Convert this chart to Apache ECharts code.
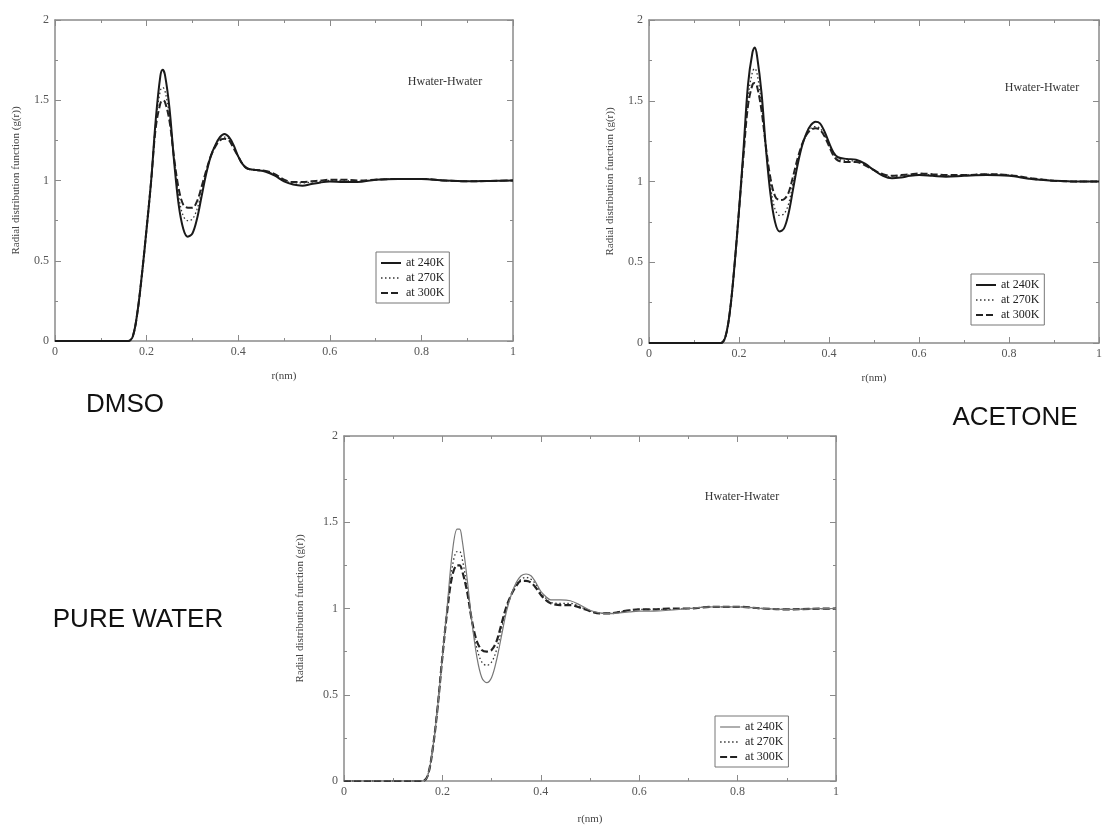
<!DOCTYPE html>
<html>
<head>
<meta charset="utf-8">
<script src="https://cdn.jsdelivr.net/npm/echarts@6/dist/echarts.min.js"></script>
<style>
  html, body { margin: 0; padding: 0; background: #fff; }
  #main { width: 1105px; height: 826px; }
</style>
</head>
<body>
<div id="main"></div>
<script>
// r (nm) sample points shared by every curve
var r = [0, 0.15, 0.16, 0.17, 0.18, 0.19, 0.20, 0.21, 0.22, 0.23, 0.235, 0.24, 0.25, 0.26, 0.27, 0.28,
  0.29, 0.30, 0.31, 0.32, 0.33, 0.34, 0.35, 0.36, 0.37, 0.38, 0.39, 0.40, 0.41, 0.42, 0.44, 0.46,
  0.48, 0.50, 0.52, 0.54, 0.56, 0.58, 0.60, 0.63, 0.66, 0.70, 0.75, 0.80, 0.85, 0.90, 0.95, 1.0];

var tempNames = ["at 240K", "at 270K", "at 300K"];

// DMSO
var dmso240 = [0, 0, 0, 0.03, 0.18, 0.42, 0.70, 1.00, 1.38, 1.65, 1.69, 1.66, 1.45, 1.12, 0.85, 0.70,
  0.65, 0.67, 0.76, 0.90, 1.04, 1.15, 1.22, 1.27, 1.29, 1.27, 1.22, 1.15, 1.10, 1.075, 1.065, 1.055,
  1.03, 0.995, 0.975, 0.968, 0.978, 0.988, 0.993, 0.99, 0.99, 1.005, 1.01, 1.01, 1.0, 0.995, 0.997, 1.0];
var dmso270 = [0, 0, 0, 0.03, 0.18, 0.42, 0.70, 1.00, 1.36, 1.56, 1.58, 1.56, 1.40, 1.13, 0.90, 0.78,
  0.75, 0.76, 0.82, 0.93, 1.05, 1.15, 1.22, 1.26, 1.27, 1.26, 1.21, 1.15, 1.10, 1.075, 1.065, 1.06,
  1.035, 1.0, 0.985, 0.985, 0.99, 0.995, 1.0, 1.0, 0.995, 1.005, 1.01, 1.01, 1.0, 0.995, 0.997, 1.0];
var dmso300 = [0, 0, 0, 0.03, 0.18, 0.42, 0.70, 1.00, 1.33, 1.48, 1.50, 1.49, 1.37, 1.14, 0.95, 0.85,
  0.83, 0.83, 0.87, 0.96, 1.06, 1.15, 1.21, 1.25, 1.26, 1.25, 1.20, 1.15, 1.10, 1.075, 1.065, 1.06,
  1.04, 1.005, 0.99, 0.99, 0.995, 1.0, 1.005, 1.005, 1.0, 1.005, 1.01, 1.01, 1.0, 0.995, 0.997, 1.0];

// ACETONE
var acet240 = [0, 0, 0, 0.04, 0.20, 0.48, 0.82, 1.20, 1.60, 1.80, 1.83, 1.78, 1.55, 1.20, 0.92, 0.75,
  0.69, 0.71, 0.80, 0.95, 1.10, 1.22, 1.30, 1.35, 1.37, 1.36, 1.31, 1.24, 1.18, 1.15, 1.14, 1.135,
  1.11, 1.07, 1.035, 1.02, 1.025, 1.035, 1.04, 1.035, 1.03, 1.035, 1.04, 1.035, 1.015, 1.005, 1.0, 1.0];
var acet270 = [0, 0, 0, 0.04, 0.20, 0.48, 0.82, 1.18, 1.52, 1.68, 1.70, 1.67, 1.48, 1.20, 0.97, 0.83,
  0.79, 0.80, 0.86, 0.99, 1.12, 1.22, 1.29, 1.33, 1.34, 1.33, 1.29, 1.23, 1.17, 1.14, 1.13, 1.125,
  1.105, 1.07, 1.04, 1.03, 1.035, 1.04, 1.045, 1.04, 1.035, 1.04, 1.045, 1.04, 1.015, 1.005, 1.0, 1.0];
var acet300 = [0, 0, 0, 0.04, 0.20, 0.48, 0.82, 1.16, 1.47, 1.60, 1.61, 1.59, 1.44, 1.21, 1.02, 0.91,
  0.885, 0.89, 0.93, 1.03, 1.14, 1.23, 1.29, 1.32, 1.33, 1.32, 1.28, 1.22, 1.16, 1.13, 1.12, 1.12,
  1.10, 1.07, 1.045, 1.035, 1.04, 1.045, 1.05, 1.045, 1.04, 1.04, 1.045, 1.04, 1.02, 1.005, 1.0, 1.0];

// PURE WATER
var water240 = [0, 0, 0, 0.03, 0.18, 0.42, 0.72, 1.02, 1.32, 1.46, 1.46, 1.40, 1.18, 0.92, 0.72, 0.60,
  0.57, 0.60, 0.70, 0.84, 0.98, 1.08, 1.15, 1.19, 1.20, 1.19, 1.15, 1.10, 1.07, 1.05, 1.05, 1.045,
  1.02, 0.99, 0.975, 0.97, 0.975, 0.98, 0.985, 0.985, 0.99, 1.0, 1.01, 1.01, 1.0, 0.995, 0.998, 1.0];
var water270 = [0, 0, 0, 0.03, 0.18, 0.42, 0.72, 1.00, 1.24, 1.33, 1.33, 1.29, 1.13, 0.92, 0.77, 0.69,
  0.67, 0.69, 0.76, 0.88, 1.0, 1.08, 1.14, 1.17, 1.18, 1.17, 1.14, 1.09, 1.06, 1.035, 1.03, 1.03,
  1.01, 0.985, 0.972, 0.972, 0.98, 0.99, 0.995, 0.995, 0.995, 1.0, 1.01, 1.01, 1.0, 0.995, 0.998, 1.0];
var water300 = [0, 0, 0, 0.03, 0.18, 0.42, 0.72, 0.99, 1.19, 1.25, 1.25, 1.22, 1.10, 0.93, 0.81, 0.76,
  0.75, 0.76, 0.81, 0.91, 1.01, 1.08, 1.13, 1.16, 1.16, 1.15, 1.12, 1.08, 1.05, 1.03, 1.02, 1.02,
  1.005, 0.985, 0.972, 0.972, 0.98, 0.99, 0.995, 0.995, 1.0, 1.0, 1.01, 1.01, 1.0, 0.995, 0.998, 1.0];

var panels = [
  { label: "DMSO", data: [dmso240, dmso270, dmso300] },
  { label: "ACETONE", data: [acet240, acet270, acet300] },
  { label: "PURE WATER", data: [water240, water270, water300] }
];

var serif = "'Liberation Serif', 'DejaVu Serif', serif";
var axisGrey = "#8a8a8a";

function pairs(ys) {
  return r.map(function (x, i) { return [x, ys[i]]; });
}

// grids in pixels
var grids = [
  { left: 55, top: 20, width: 458, height: 321 },
  { left: 649, top: 20, width: 460, height: 323 },
  { left: 344, top: 436, width: 492, height: 345 }
];

var lineStyles = [
  [{ color: "#1a1a1a", width: 2, type: "solid" },
   { color: "#333", width: 1.3, type: [1.5, 2.5] },
   { color: "#222", width: 2, type: [7, 3] }],
  [{ color: "#1a1a1a", width: 2, type: "solid" },
   { color: "#333", width: 1.3, type: [1.5, 2.5] },
   { color: "#222", width: 2, type: [7, 3] }],
  [{ color: "#777", width: 1.2, type: "solid" },
   { color: "#333", width: 1.3, type: [1.5, 2.5] },
   { color: "#222", width: 2.2, type: [7, 3] }]
];

var xAxes = [], yAxes = [], series = [], legends = [];

grids.forEach(function (g, gi) {
  var tick = { show: true, inside: true, length: 6, lineStyle: { color: axisGrey } };
  var minor = { show: true, splitNumber: 2, length: 3, lineStyle: { color: axisGrey } };
  var line = { show: true, onZero: false, lineStyle: { color: axisGrey, width: 1.5 } };
  xAxes.push({
    gridIndex: gi, type: "value", min: 0, max: 1, interval: 0.2,
    name: "r(nm)", nameLocation: "middle", nameGap: gi === 2 ? 33 : 30,
    nameTextStyle: { fontFamily: serif, fontSize: 11, color: "#444" },
    axisLine: line, axisTick: tick, minorTick: minor,
    axisLabel: { fontFamily: serif, fontSize: 12, color: "#555", margin: 5 },
    splitLine: { show: false }
  });
  xAxes.push({
    gridIndex: gi, type: "value", min: 0, max: 1, interval: 0.2, position: "top",
    axisLine: line, axisTick: tick, minorTick: minor,
    axisLabel: { show: false }, splitLine: { show: false }
  });
  yAxes.push({
    gridIndex: gi, type: "value", min: 0, max: 2, interval: 0.5,
    name: "Radial distribution function (g(r))", nameLocation: "middle",
    nameGap: gi === 2 ? 38 : 33,
    nameTextStyle: { fontFamily: serif, fontSize: 11, color: "#444" },
    axisLine: line, axisTick: tick, minorTick: minor,
    axisLabel: { fontFamily: serif, fontSize: 12, color: "#555", margin: 6 },
    splitLine: { show: false }
  });
  yAxes.push({
    gridIndex: gi, type: "value", min: 0, max: 2, interval: 0.5, position: "right",
    axisLine: line, axisTick: tick, minorTick: minor,
    axisLabel: { show: false }, splitLine: { show: false }
  });

  panels[gi].data.forEach(function (ys, si) {
    var ls = lineStyles[gi][si];
    series.push({
      name: tempNames[si], type: "line",
      xAxisIndex: gi * 2, yAxisIndex: gi * 2,
      data: pairs(ys), smooth: 0.35, showSymbol: false, symbol: "none",
      itemStyle: { color: ls.color },
      lineStyle: ls, z: 3 - si
    });
  });
});

// legend boxes and "Hwater-Hwater" labels
var legendPos = [
  { left: 376, top: 252 },
  { left: 971, top: 274 },
  { left: 715, top: 716 }
];
var textPos = [
  { x: 445, y: 82 },
  { x: 1042, y: 88 },
  { x: 742, y: 497 }
];

legendPos.forEach(function (p, gi) {
  legends.push({
    left: p.left, top: p.top, orient: "vertical",
    itemWidth: 20, itemHeight: 8, itemGap: 3,
    padding: [5, 5, 4, 4],
    borderColor: "#777", borderWidth: 1,
    selectedMode: false,
    itemStyle: { color: "rgba(0,0,0,0)", borderColor: "rgba(0,0,0,0)", borderWidth: 0 },
    textStyle: { fontFamily: serif, fontSize: 12, color: "#222" },
    data: tempNames.map(function (n, si) {
      return {
        name: n, lineStyle: lineStyles[gi][si],
        itemStyle: { color: "rgba(0,0,0,0)", borderColor: "rgba(0,0,0,0)", borderWidth: 0 }
      };
    })
  });
});

var graphics = textPos.map(function (p) {
  return {
    type: "text", x: p.x, y: p.y,
    style: {
      text: "Hwater-Hwater", fontFamily: serif, fontSize: 12, fill: "#333",
      textAlign: "center", textVerticalAlign: "middle"
    }
  };
});

var panelLabelPos = [
  { x: 125, y: 405 },
  { x: 1015, y: 418 },
  { x: 138, y: 620 }
];
panelLabelPos.forEach(function (p, gi) {
  graphics.push({
    type: "text", x: p.x, y: p.y,
    style: {
      text: panels[gi].label, fontFamily: "'Liberation Sans', Arial, sans-serif",
      fontSize: 26, fill: "#111", textAlign: "center", textVerticalAlign: "middle"
    }
  });
});

var myChart = echarts.init(document.getElementById("main"));
myChart.setOption({
  animation: false,
  backgroundColor: "#fff",
  grid: grids,
  xAxis: xAxes,
  yAxis: yAxes,
  legend: legends,
  graphic: graphics,
  series: series
});
</script>
</body>
</html>
